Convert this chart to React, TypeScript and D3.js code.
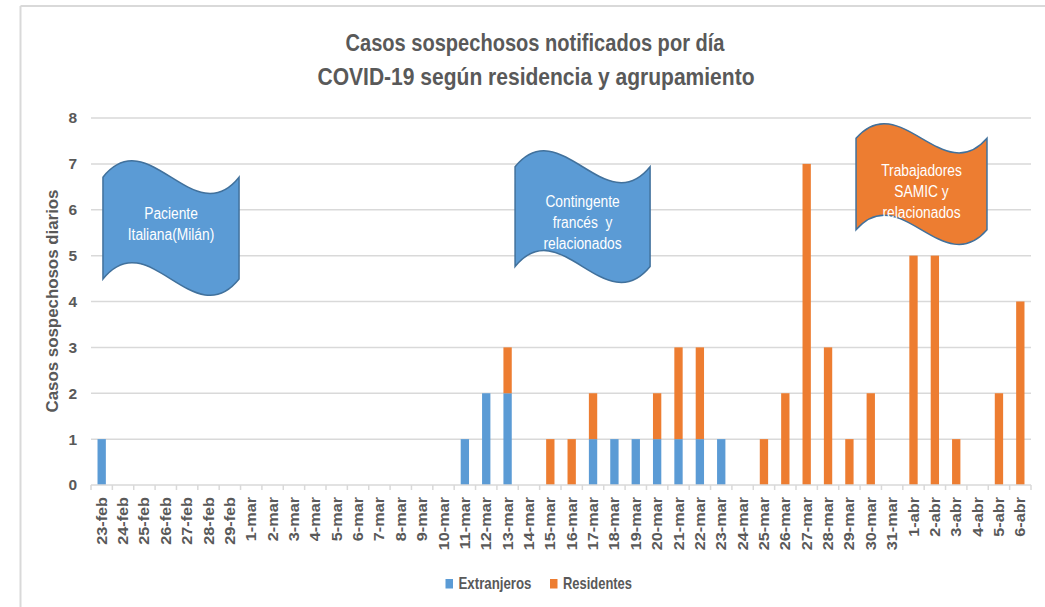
import React from "react";
import * as d3 from "d3";

// categorías (días)
const fechas = [
  "23-feb", "24-feb", "25-feb", "26-feb", "27-feb", "28-feb", "29-feb",
  "1-mar", "2-mar", "3-mar", "4-mar", "5-mar", "6-mar", "7-mar", "8-mar", "9-mar", "10-mar",
  "11-mar", "12-mar", "13-mar", "14-mar", "15-mar", "16-mar", "17-mar", "18-mar", "19-mar", "20-mar",
  "21-mar", "22-mar", "23-mar", "24-mar", "25-mar", "26-mar", "27-mar", "28-mar", "29-mar", "30-mar", "31-mar",
  "1-abr", "2-abr", "3-abr", "4-abr", "5-abr", "6-abr"
];

const extranjeros = [
  1, 0, 0, 0, 0, 0, 0,
  0, 0, 0, 0, 0, 0, 0, 0, 0, 0,
  1, 2, 2, 0, 0, 0, 1, 1, 1, 1,
  1, 1, 1, 0, 0, 0, 0, 0, 0, 0, 0,
  0, 0, 0, 0, 0, 0
];

const residentes = [
  0, 0, 0, 0, 0, 0, 0,
  0, 0, 0, 0, 0, 0, 0, 0, 0, 0,
  0, 0, 1, 0, 1, 1, 1, 0, 0, 1,
  2, 2, 0, 0, 1, 2, 7, 3, 1, 2, 0,
  5, 5, 1, 0, 2, 4
];

const yTicks = [0, 1, 2, 3, 4, 5, 6, 7, 8];

const series = ["Extranjeros", "Residentes"];
const colores = ["#5B9BD5", "#ED7D31"];

// notas (formas de onda), posición en unidades de datos: índice de día y valor
const notas = [
  { lineas: ["Paciente", "Italiana(Milán)"], i0: 0.56, i1: 6.93, vTop: 7.08, vBot: 4.12, color: "#5B9BD5", tc: 0.47 },
  { lineas: ["Contingente", "francés  y", "relacionados"], i0: 19.85, i1: 26.17, vTop: 7.3, vBot: 4.4, color: "#5B9BD5", tc: 0.545 },
  { lineas: ["Trabajadores", "SAMIC y", "relacionados"], i0: 35.81, i1: 41.94, vTop: 7.89, vBot: 5.23, color: "#ED7D31", tc: 0.56 }
];

const W = 1045;
const H = 607;
const left = 91;
const right = 1031;
const top = 118;
const bottom = 485;
const gris = "#595959";
const rejilla = "#D9D9D9";

function wavePath(l: number, t: number, r: number, b: number) {
  const w = r - l;
  const h = b - t;
  const a = h * 0.125;
  const d = (a * 10) / 3;
  const y1 = t + a;
  const y4 = b - a;
  return `M${l},${y1} C${l + w / 3},${y1 - d} ${l + (2 * w) / 3},${y1 + d} ${r},${y1} ` +
    `L${r},${y4} C${l + (2 * w) / 3},${y4 + d} ${l + w / 3},${y4 - d} ${l},${y4} Z`;
}

function App() {
  const x = d3.scaleBand().domain(fechas).range([left, right]).paddingInner(0.61).paddingOuter(0.305);
  const xi = d3.scaleLinear().domain([0, fechas.length]).range([left, right]);
  const y = d3.scaleLinear().domain([0, 8]).range([bottom, top]);

  const rows = fechas.map((f, i) => ({ fecha: f, Extranjeros: extranjeros[i], Residentes: residentes[i] }));
  const stacked = d3.stack<any>().keys(series)(rows);

  const font = "'Liberation Sans', Arial, sans-serif";
  const fontShape = "'Liberation Sans Narrow', 'Liberation Sans', Arial, sans-serif";

  return (
    <svg width={W} height={H} style={{ position: "absolute", left: 0, top: 0, background: "#fff" }}>
      {/* borde del área del gráfico */}
      <line x1={20.5} x2={W} y1={6} y2={6} stroke={rejilla} strokeWidth={2} />
      <line x1={20.5} x2={20.5} y1={6} y2={H} stroke={rejilla} strokeWidth={2} />

      {/* título */}
      <text x={535} y={51} textAnchor="middle" fontFamily={font} fontWeight="bold" fontSize={24.5}
        fill={gris} textLength={379} lengthAdjust="spacingAndGlyphs">
        Casos sospechosos notificados por día
      </text>
      <text x={536} y={85} textAnchor="middle" fontFamily={font} fontWeight="bold" fontSize={24.5}
        fill={gris} textLength={437} lengthAdjust="spacingAndGlyphs">
        COVID-19 según residencia y agrupamiento
      </text>

      {/* rejilla y eje Y */}
      {yTicks.map(t => (
        <g key={t}>
          {t > 0 && <line x1={left} x2={right} y1={y(t)} y2={y(t)} stroke={rejilla} strokeWidth={1.5} />}
          <text x={77} y={y(t)} dy="0.35em" textAnchor="end" fontFamily={font} fontWeight="bold"
            fontSize={15.5} fill={gris}>{t}</text>
        </g>
      ))}
      <text transform={`translate(58,${301}) rotate(-90)`} textAnchor="middle" fontFamily={font}
        fontWeight="bold" fontSize={16.5} fill={gris} textLength={223} lengthAdjust="spacingAndGlyphs">
        Casos sospechosos diarios
      </text>

      {/* barras apiladas */}
      {stacked.map((s, k) => (
        <g key={s.key} fill={colores[k]}>
          {s.map((d, i) => d[1] - d[0] > 0 ? (
            <rect key={i} x={x(fechas[i])} width={x.bandwidth()} y={y(d[1])} height={y(d[0]) - y(d[1])} />
          ) : null)}
        </g>
      ))}

      {/* eje X */}
      <line x1={left} x2={right} y1={bottom} y2={bottom} stroke={rejilla} strokeWidth={1.5} />
      {d3.range(fechas.length + 1).map(i => (
        <line key={i} x1={xi(i)} x2={xi(i)} y1={bottom} y2={bottom + 5} stroke={rejilla} strokeWidth={1.5} />
      ))}
      {fechas.map(f => (
        <text key={f} transform={`translate(${(x(f) as number) + x.bandwidth() / 2},497) rotate(-90) scale(1.12,1)`}
          dy="0.35em" textAnchor="end" fontFamily={font} fontWeight="bold" fontSize={14.5} fill={gris}>
          {f}
        </text>
      ))}

      {/* notas */}
      {notas.map((n, k) => {
        const l = xi(n.i0);
        const r = xi(n.i1);
        const t = y(n.vTop);
        const b = y(n.vBot);
        const cx = (l + r) / 2;
        const cy = t + (b - t) * n.tc;
        const lh = 21;
        return (
          <g key={k}>
            <path d={wavePath(l, t, r, b)} fill={n.color} stroke="#41719C" strokeWidth={1.5} />
            {n.lineas.map((ln, j) => (
              <text key={j} transform={`translate(${cx},${cy + (j - (n.lineas.length - 1) / 2) * lh}) scale(0.92,1.08)`}
                dy="0.35em" textAnchor="middle" fontFamily={fontShape} fontSize={15} fill="#fff"
                style={{ whiteSpace: "pre" }}>
                {ln}
              </text>
            ))}
          </g>
        );
      })}

      {/* leyenda */}
      {series.map((s, k) => {
        const lx = k === 0 ? 445.5 : 550;
        return (
          <g key={s}>
            <rect x={lx} y={579} width={7.5} height={9.5} fill={colores[k]} />
            <text x={lx + 13} y={588.5} fontFamily={font} fontWeight="bold" fontSize={16.5} fill={gris}
              textLength={k === 0 ? 73 : 69} lengthAdjust="spacingAndGlyphs">{s}</text>
          </g>
        );
      })}
    </svg>
  );
}

export default App;
